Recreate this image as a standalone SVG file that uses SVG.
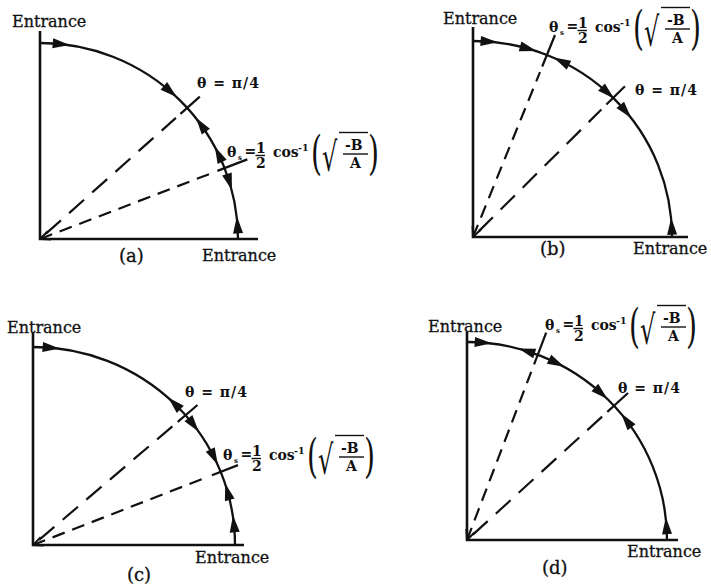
<svg xmlns="http://www.w3.org/2000/svg" xmlns:xlink="http://www.w3.org/1999/xlink" width="711" height="587" viewBox="0 0 711 587">
<style>
.ax{stroke:#111;stroke-width:2.6;fill:none}
.arc{stroke:#111;stroke-width:2.3;fill:none}
.d1{stroke:#111;stroke-width:2.2;stroke-dasharray:20 11;fill:none}
.d2{stroke:#111;stroke-width:2.2;stroke-dasharray:13 8;fill:none}
.tk{stroke:#111;stroke-width:2.2;fill:none}
.bar{stroke:#111;stroke-width:1.4}
text{font-family:"DejaVu Serif","Liberation Serif",serif;fill:#111}
.ent{font-size:16px;stroke:#111;stroke-width:0.3}
.lbl{font-size:18px;stroke:#111;stroke-width:0.3}
.th{font-size:14px;font-weight:bold}
.fm{font-size:14px;font-weight:bold}
.sub{font-size:7px;font-weight:bold}
.sup{font-size:9.5px;font-weight:bold}
.par{font-size:47px}
.rad{font-size:40px;font-family:"DejaVu Sans",sans-serif}
</style>
<defs>
<path id="ah" d="M9,0 L-8,-5 L-8,5 Z" fill="#111"/>
<marker id="oa" viewBox="0 0 12 12" refX="11" refY="6" markerWidth="12" markerHeight="12" markerUnits="userSpaceOnUse" orient="auto-start-reverse">
<path d="M1,1.5 L11,6 L1,10.5" fill="none" stroke="#111" stroke-width="2"/>
</marker>
</defs>
<rect width="711" height="587" fill="#fff"/>

<!-- Panel (a) -->
<g id="panel-a">
<g id="a-axes"><path class="ax" d="M40,31 V239 H258"/></g>
<g id="a-curve"><path class="arc" d="M40,43 A198,196 0 0 1 238,239"/></g>
<g id="a-connectors">
<line class="d1" x1="40" y1="239" x2="175.9" y2="117.9" stroke-dashoffset="-8"/>
<line class="tk" x1="180.4" y1="113.9" x2="199.8" y2="96.6"/>
<line class="d2" x1="40" y1="239" x2="211.8" y2="173.1" marker-start="url(#oa)"/>
<line class="tk" x1="217.4" y1="170.9" x2="247.3" y2="159.4"/>
<use xlink:href="#ah" href="#ah" transform="translate(60.7,44.1) rotate(6)"/>
<use xlink:href="#ah" href="#ah" transform="translate(169.9,91.1) rotate(41)"/>
<use xlink:href="#ah" href="#ah" transform="translate(201.2,125.2) rotate(-125.5)"/>
<use xlink:href="#ah" href="#ah" transform="translate(218.7,154.6) rotate(-115.5)"/>
<use xlink:href="#ah" href="#ah" transform="translate(229.3,181.7) rotate(73)"/>
<use xlink:href="#ah" href="#ah" transform="translate(237.5,225.3) rotate(-94)"/>
</g>
<g id="a-labels">
<text class="ent" x="12" y="27">Entrance</text>
<text class="ent" x="202" y="261">Entrance</text>
<text class="lbl" x="119" y="262">(a)</text>
<text class="th" x="197" y="88" textLength="62">θ = π/4</text>
</g>
<g id="a-formula" transform="translate(227,157)">
<text class="fm" x="0" y="0">θ</text><text class="sub" x="11" y="2.5">s</text>
<text class="fm" x="17.5" y="-1">=</text>
<text class="fm" x="29" y="-4">1</text><line class="bar" x1="28.5" y1="-1.5" x2="38" y2="-1.5"/><text class="fm" x="29" y="11">2</text>
<text class="fm" x="46" y="0">cos</text><text class="sup" x="71" y="-6">-1</text>
<text class="par" transform="translate(84,11.7) scale(0.6,1)">(</text>
<text class="rad" transform="translate(95,14) scale(0.6,1)">√</text>
<line class="bar" x1="112" y1="-24.5" x2="141" y2="-24.5"/>
<text class="fm" x="118" y="-7">-B</text><line class="bar" x1="116" y1="-3" x2="141" y2="-3"/><text class="fm" x="123" y="11">A</text>
<text class="par" transform="translate(141,11.7) scale(0.6,1)">)</text>
</g>
</g>

<!-- Panel (b) -->
<g id="panel-b">
<g id="b-axes"><path class="ax" d="M473,27 V237 H688"/></g>
<g id="b-curve"><path class="arc" d="M473,41 A199,196 0 0 1 672,237"/></g>
<g id="b-connectors">
<line class="d2" x1="473" y1="237" x2="540.0" y2="72.1" marker-start="url(#oa)"/>
<line class="tk" x1="542.2" y1="66.5" x2="555.0" y2="35.0"/>
<line class="d1" x1="473" y1="237" x2="601.4" y2="109.5" stroke-dashoffset="-8"/>
<line class="tk" x1="606.4" y1="104.5" x2="624.9" y2="86.2"/>
<use xlink:href="#ah" href="#ah" transform="translate(488.6,41.6) rotate(4.5)"/>
<use xlink:href="#ah" href="#ah" transform="translate(527.8,48.6) rotate(16)"/>
<use xlink:href="#ah" href="#ah" transform="translate(561.8,61.6) rotate(-153.5)"/>
<use xlink:href="#ah" href="#ah" transform="translate(607.4,92.5) rotate(42.5)"/>
<use xlink:href="#ah" href="#ah" transform="translate(625.4,111.0) rotate(50)"/>
<use xlink:href="#ah" href="#ah" transform="translate(671.7,226.7) rotate(-93)"/>
</g>
<g id="b-labels">
<text class="ent" x="443" y="24">Entrance</text>
<text class="ent" x="633" y="254">Entrance</text>
<text class="lbl" x="540" y="255">(b)</text>
<text class="th" x="635" y="95" textLength="62">θ = π/4</text>
</g>
<g id="b-formula" transform="translate(549,32)">
<text class="fm" x="0" y="0">θ</text><text class="sub" x="11" y="2.5">s</text>
<text class="fm" x="17.5" y="-1">=</text>
<text class="fm" x="29" y="-4">1</text><line class="bar" x1="28.5" y1="-1.5" x2="38" y2="-1.5"/><text class="fm" x="29" y="11">2</text>
<text class="fm" x="46" y="0">cos</text><text class="sup" x="71" y="-6">-1</text>
<text class="par" transform="translate(84,11.7) scale(0.6,1)">(</text>
<text class="rad" transform="translate(95,14) scale(0.6,1)">√</text>
<line class="bar" x1="112" y1="-24.5" x2="141" y2="-24.5"/>
<text class="fm" x="118" y="-7">-B</text><line class="bar" x1="116" y1="-3" x2="141" y2="-3"/><text class="fm" x="123" y="11">A</text>
<text class="par" transform="translate(141,11.7) scale(0.6,1)">)</text>
</g>
</g>

<!-- Panel (c) -->
<g id="panel-c">
<g id="c-axes"><path class="ax" d="M33,332 V545 H244"/></g>
<g id="c-curve"><path class="arc" d="M33,347 A202,198 0 0 1 235,545"/></g>
<g id="c-connectors">
<line class="d1" x1="33" y1="545" x2="173.1" y2="425.8" stroke-dashoffset="-8"/>
<line class="tk" x1="177.7" y1="421.9" x2="197.5" y2="405.0"/>
<line class="d2" x1="33" y1="545" x2="206.3" y2="477.4" marker-start="url(#oa)"/>
<line class="tk" x1="211.9" y1="475.2" x2="238.0" y2="465.1"/>
<use xlink:href="#ah" href="#ah" transform="translate(50.6,347.8) rotate(5)"/>
<use xlink:href="#ah" href="#ah" transform="translate(174.6,403.8) rotate(-135.5)"/>
<use xlink:href="#ah" href="#ah" transform="translate(193.3,424.5) rotate(52.5)"/>
<use xlink:href="#ah" href="#ah" transform="translate(213.8,456.7) rotate(63.5)"/>
<use xlink:href="#ah" href="#ah" transform="translate(227.6,492.1) rotate(-105.5)"/>
<use xlink:href="#ah" href="#ah" transform="translate(233.9,524.3) rotate(-96)"/>
</g>
<g id="c-labels">
<text class="ent" x="7" y="333">Entrance</text>
<text class="ent" x="195" y="563">Entrance</text>
<text class="lbl" x="127" y="581">(c)</text>
<text class="th" x="185" y="397" textLength="62">θ = π/4</text>
</g>
<g id="c-formula" transform="translate(223,460)">
<text class="fm" x="0" y="0">θ</text><text class="sub" x="11" y="2.5">s</text>
<text class="fm" x="17.5" y="-1">=</text>
<text class="fm" x="29" y="-4">1</text><line class="bar" x1="28.5" y1="-1.5" x2="38" y2="-1.5"/><text class="fm" x="29" y="11">2</text>
<text class="fm" x="46" y="0">cos</text><text class="sup" x="71" y="-6">-1</text>
<text class="par" transform="translate(84,11.7) scale(0.6,1)">(</text>
<text class="rad" transform="translate(95,14) scale(0.6,1)">√</text>
<line class="bar" x1="112" y1="-24.5" x2="141" y2="-24.5"/>
<text class="fm" x="118" y="-7">-B</text><line class="bar" x1="116" y1="-3" x2="141" y2="-3"/><text class="fm" x="123" y="11">A</text>
<text class="par" transform="translate(141,11.7) scale(0.6,1)">)</text>
</g>
</g>

<!-- Panel (d) -->
<g id="panel-d">
<g id="d-axes"><path class="ax" d="M467,332 V540 H678"/></g>
<g id="d-curve"><path class="arc" d="M467,342 A200,198 0 0 1 667,540"/></g>
<g id="d-connectors">
<line class="d2" x1="467" y1="540" x2="531.2" y2="371.8" marker-start="url(#oa)"/>
<line class="tk" x1="534.1" y1="364.4" x2="546.2" y2="332.6"/>
<line class="d1" x1="467" y1="540" x2="602.1" y2="416.6" stroke-dashoffset="-8"/>
<line class="tk" x1="607.3" y1="411.9" x2="628.0" y2="393.0"/>
<use xlink:href="#ah" href="#ah" transform="translate(482.7,342.6) rotate(4.5)"/>
<use xlink:href="#ah" href="#ah" transform="translate(527.1,351.2) rotate(-162.5)"/>
<use xlink:href="#ah" href="#ah" transform="translate(556.2,362.8) rotate(26.5)"/>
<use xlink:href="#ah" href="#ah" transform="translate(600.8,392.9) rotate(42)"/>
<use xlink:href="#ah" href="#ah" transform="translate(626.7,420.8) rotate(-127)"/>
<use xlink:href="#ah" href="#ah" transform="translate(666.5,526.2) rotate(-94)"/>
</g>
<g id="d-labels">
<text class="ent" x="428" y="332">Entrance</text>
<text class="ent" x="627" y="557">Entrance</text>
<text class="lbl" x="542" y="574">(d)</text>
<text class="th" x="618" y="393" textLength="62">θ = π/4</text>
</g>
<g id="d-formula" transform="translate(545,330)">
<text class="fm" x="0" y="0">θ</text><text class="sub" x="11" y="2.5">s</text>
<text class="fm" x="17.5" y="-1">=</text>
<text class="fm" x="29" y="-4">1</text><line class="bar" x1="28.5" y1="-1.5" x2="38" y2="-1.5"/><text class="fm" x="29" y="11">2</text>
<text class="fm" x="46" y="0">cos</text><text class="sup" x="71" y="-6">-1</text>
<text class="par" transform="translate(84,11.7) scale(0.6,1)">(</text>
<text class="rad" transform="translate(95,14) scale(0.6,1)">√</text>
<line class="bar" x1="112" y1="-24.5" x2="141" y2="-24.5"/>
<text class="fm" x="118" y="-7">-B</text><line class="bar" x1="116" y1="-3" x2="141" y2="-3"/><text class="fm" x="123" y="11">A</text>
<text class="par" transform="translate(141,11.7) scale(0.6,1)">)</text>
</g>
</g>
</svg>
